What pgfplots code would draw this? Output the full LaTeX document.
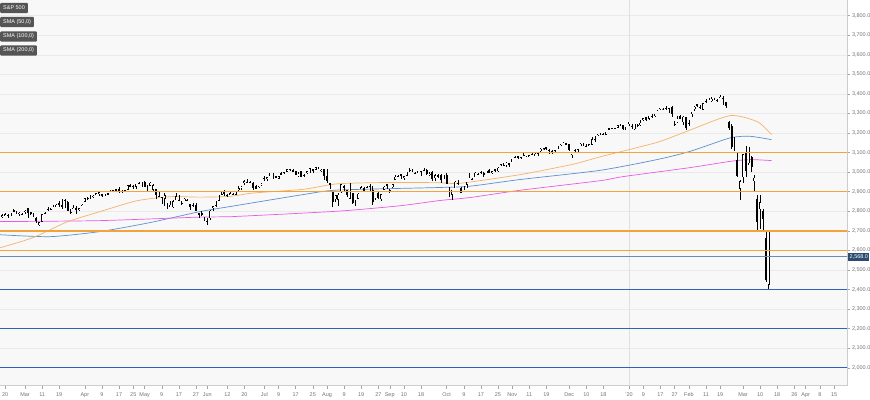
\documentclass[border=0pt]{standalone}
\usepackage{fontspec}
\setmainfont{Liberation Sans}
\usepackage{pgfplots}
\usepackage{pgfplotstable}
\pgfplotsset{compat=1.18}
\definecolor{bgc}{HTML}{F8F8F8}
\definecolor{gridc}{HTML}{EAEAEA}
\definecolor{lvlo}{HTML}{F2A33A}
\definecolor{lvlb}{HTML}{2E63B8}
\definecolor{smaA}{HTML}{F7B267}
\definecolor{smaB}{HTML}{5B8FD0}
\definecolor{smaC}{HTML}{E85BE8}
\definecolor{pricec}{HTML}{6B8BAE}
\definecolor{tagc}{HTML}{2C4B70}
\definecolor{legc}{HTML}{555555}
% S&P 500 daily OHLC, 14 Feb 2019 (index -10) to 13 Mar 2020 (index 261)
\pgfplotstableread{
o h l c
2743 2757 2736 2745.7
2760 2775.7 2760 2775.6
2769 2788 2767 2779.8
2779 2789 2775 2784.7
2782 2785 2764 2774.9
2780 2792.9 2775 2792.7
2804 2813 2794 2796.1
2792 2803 2790 2793.9
2787 2795 2775 2792.4
2788 2793 2782 2784.5
2798 2808 2787 2803.7
2814 2816 2767 2792.8
2795 2796 2781 2789.7
2790 2790 2768 2771.5
2766 2768 2739 2748.9
2731 2744 2722 2743.1
2747 2784 2747 2783.3
2787 2798 2786 2791.5
2799 2821 2799 2810.9
2810 2815 2804 2808.5
2811 2831 2811 2822.5
2822 2836 2820 2832.9
2840 2852 2823 2832.6
2831 2860 2813 2824.2
2820 2860 2817 2854.9
2847 2852 2800 2800.7
2796 2809 2785 2798.4
2813 2830 2812 2818.5
2819 2826 2788 2805.4
2809 2819 2799 2815.4
2828 2837 2827 2834.4
2848 2869 2848 2867.2
2868 2872 2859 2867.2
2876 2885 2865 2873.4
2873 2882 2866 2879.4
2884 2893 2882 2892.7
2888 2896 2880 2895.8
2886 2886 2874 2878.2
2881 2889 2879 2888.2
2892 2893 2881 2888.3
2900 2910 2898 2907.4
2908 2909 2896 2905.6
2912 2916 2900 2907.1
2916 2922 2895 2900.5
2904 2908 2891 2905.0
2898 2910 2896 2908.0
2910 2936 2909 2933.7
2935 2937 2926 2927.3
2929 2933 2913 2926.2
2926 2940 2916 2939.9
2941 2950 2939 2943.0
2937 2948 2924 2945.8
2952 2954 2923 2923.7
2922 2932 2900 2917.5
2930 2948 2930 2945.6
2909 2937 2898 2932.5
2913 2913 2862 2884.1
2880 2898 2873 2879.4
2860 2875 2837 2870.7
2864 2892 2826 2881.4
2841 2841 2810 2811.9
2820 2852 2820 2834.4
2820 2858 2816 2851.0
2855 2892 2855 2876.3
2858 2885 2854 2859.5
2841 2853 2831 2840.2
2855 2868 2855 2864.4
2856 2865 2851 2856.3
2836 2836 2806 2822.2
2833 2841 2821 2826.1
2831 2841 2801 2802.4
2791 2791 2766 2783.0
2786 2799 2777 2788.9
2767 2772 2750 2752.1
2752 2763 2729 2744.5
2763 2804 2756 2803.3
2818 2827 2801 2826.2
2829 2853 2823 2843.5
2853 2885 2853 2873.3
2885 2904 2885 2886.7
2903 2911 2878 2885.7
2882 2888 2874 2879.8
2886 2896 2884 2891.6
2886 2895 2881 2887.0
2889 2898 2886 2889.7
2906 2931 2905 2917.8
2920 2930 2911 2926.5
2949 2958 2934 2954.2
2952 2964 2947 2950.5
2951 2955 2944 2945.4
2945 2947 2911 2917.4
2927 2932 2912 2913.8
2919 2929 2918 2924.9
2932 2943 2929 2941.8
2971 2978 2953 2964.3
2965 2973 2955 2973.0
2978 2996 2978 2995.8
2984 2994 2967 2990.4
2979 2981 2970 2976.0
2966 2981 2963 2979.6
2989 3002 2984 2993.1
2999 3003 2989 2999.9
3003 3014 3001 3013.8
3017 3017 3009 3014.3
3012 3016 3003 3004.0
3006 3006 2984 2984.4
2979 2999 2975 2995.1
3005 3006 2976 2976.6
2981 2991 2976 2985.0
2995 3005 2988 3005.5
2999 3020 2997 3019.6
3016 3017 2996 3003.7
3013 3028 3013 3025.9
3024 3026 3015 3021.0
3007 3018 3000 3013.2
3016 3017 2959 2980.4
2980 3014 2945 2953.6
2943 2945 2915 2932.1
2898 2898 2822 2844.7
2861 2885 2848 2881.8
2859 2892 2825 2884.0
2897 2938 2892 2938.1
2930 2935 2901 2918.7
2907 2911 2874 2882.7
2865 2943 2865 2926.3
2894 2894 2839 2840.6
2846 2856 2825 2847.6
2864 2893 2864 2888.7
2913 2931 2913 2923.7
2919 2923 2899 2900.5
2923 2928 2917 2924.4
2931 2939 2904 2923.0
2911 2928 2834 2847.1
2867 2880 2856 2878.4
2893 2898 2860 2869.2
2862 2890 2853 2887.9
2910 2931 2910 2924.6
2937 2941 2914 2926.5
2909 2914 2891 2906.3
2924 2938 2921 2937.8
2960 2985 2960 2976.0
2980 2986 2973 2978.7
2988 2990 2966 2978.4
2971 2980 2958 2979.4
2982 3001 2978 3000.9
3010 3020 3000 3009.6
3013 3017 3003 3007.4
2997 3003 2991 2998.0
2996 3006 2994 3005.7
3002 3008 2979 3006.7
3010 3022 3004 3006.8
3009 3016 2985 2992.1
2984 2999 2982 2991.8
3002 3007 2957 2966.6
2968 2990 2953 2984.9
2985 2988 2969 2977.6
2986 2988 2946 2961.8
2968 2983 2967 2976.7
2983 2993 2938 2940.3
2924 2925 2874 2887.6
2885 2911 2856 2910.6
2918 2953 2918 2952.0
2945 2960 2935 2938.8
2921 2926 2892 2893.1
2911 2929 2907 2919.4
2918 2948 2917 2938.1
2963 2993 2963 2970.3
2965 2972 2962 2966.2
2973 3003 2973 2995.7
2990 2997 2986 2989.7
3000 3008 2992 2998.0
2996 3000 2976 2986.2
2997 3007 2995 3006.7
3011 3014 2996 2996.0
2995 3005 2992 3004.5
3015 3017 3001 3010.3
3004 3027 3001 3022.6
3033 3044 3033 3039.4
3036 3047 3034 3036.9
3039 3050 3026 3046.8
3047 3047 3024 3037.6
3051 3067 3051 3066.9
3079 3084 3075 3078.3
3080 3084 3069 3074.6
3075 3079 3065 3076.8
3087 3098 3080 3085.2
3082 3093 3075 3093.1
3080 3088 3076 3087.0
3090 3103 3085 3091.8
3084 3099 3083 3094.0
3091 3098 3083 3096.6
3107 3121 3105 3120.5
3117 3124 3113 3122.0
3127 3127 3113 3120.2
3114 3119 3091 3108.5
3108 3111 3094 3103.5
3111 3112 3099 3110.3
3117 3134 3117 3133.6
3134 3142 3131 3140.5
3145 3154 3143 3153.6
3147 3150 3140 3141.0
3143 3144 3110 3113.9
3087 3095 3070 3093.2
3103 3120 3103 3112.8
3119 3120 3103 3117.4
3135 3150 3135 3145.9
3141 3149 3135 3136.0
3135 3143 3126 3132.5
3136 3143 3133 3141.6
3141 3177 3138 3168.6
3166 3183 3156 3168.8
3183 3197 3183 3191.5
3195 3199 3188 3192.5
3195 3199 3190 3191.1
3192 3206 3191 3205.4
3223 3226 3216 3221.2
3226 3228 3221 3224.0
3225 3226 3220 3223.4
3227 3240 3227 3239.9
3247 3248 3235 3240.0
3240 3240 3217 3221.3
3215 3231 3213 3230.8
3245 3258 3236 3257.9
3227 3247 3222 3234.9
3218 3247 3215 3246.3
3242 3245 3233 3237.2
3239 3268 3236 3253.1
3267 3276 3263 3274.7
3281 3282 3260 3265.4
3272 3288 3268 3288.1
3286 3295 3278 3283.2
3283 3298 3280 3289.3
3303 3317 3302 3316.8
3323 3330 3318 3329.6
3321 3329 3316 3320.8
3330 3337 3320 3321.8
3316 3326 3302 3325.5
3334 3338 3283 3295.5
3248 3259 3234 3243.6
3256 3286 3253 3276.2
3289 3293 3271 3273.4
3256 3286 3242 3283.7
3282 3283 3214 3225.5
3236 3268 3236 3248.9
3280 3306 3280 3297.6
3324 3337 3313 3334.7
3345 3348 3333 3345.8
3335 3342 3322 3327.7
3318 3352 3317 3352.1
3366 3375 3352 3357.8
3370 3381 3369 3379.5
3365 3385 3360 3373.9
3379 3381 3367 3380.2
3370 3375 3356 3370.3
3381 3393 3378 3386.2
3380 3389 3341 3373.2
3360 3360 3328 3337.8
3257 3260 3214 3225.9
3238 3247 3118 3128.2
3140 3182 3108 3116.4
3063 3097 2977 2978.8
2916 2960 2855 2954.2
2974 3091 2946 3090.2
3096 3136 2976 3003.4
3046 3130 3034 3130.1
3075 3083 2999 3023.9
2954 2985 2901 2972.4
2863 2885 2706 2746.6
2810 2885 2710 2845
2800 2812 2706 2760
2665 2706 2440 2450
2425 2700 2400 2696
}\spx
\begin{document}
\begin{tikzpicture}
\begin{axis}[
  at={(0bp,14.5bp)}, anchor=south west,
  scale only axis, width=847bp, height=385.5bp,
  xmin=-8.775, xmax=288.5, ymin=1909, ymax=3880,
  axis on top=false,
  axis x line*=bottom, axis y line*=right,
  axis line style={draw=black!20, line width=0.6bp},
  axis background/.style={fill=bgc},
  tick align=outside, major tick length=3bp,
  tick style={draw=black!35, line width=0.4bp},
  ytick={2000,2100,...,3800},
  ymajorgrids, major grid style={draw=gridc, line width=0.5bp},
  yticklabel={\pgfmathprintnumber[fixed,fixed zerofill,precision=1,1000 sep={,}]{\tick}},
  /pgf/number format/assume math mode=true,
  ticklabel style={font=\fontsize{5.5}{6}\selectfont, text=black!55},
  y tick label style={xshift=-1.5bp},
  x tick label style={text height=4pt, text depth=1pt, yshift=-0.5bp},
  xtick={-7,0,6,12,21,27,33,38,42,48,54,60,64,71,77,84,89,95,101,106,112,118,124,128,133,139,148,154,160,166,171,177,183,191,197,203,212,217,223,228,233,239,244,252,258,264,270,274,279,284},
  xticklabels={20,Mar,11,19,Apr,9,17,25,May,9,17,27,Jun,12,20,Jul,9,17,25,Aug,9,19,27,Sep,10,18,Oct,9,17,25,Nov,11,19,Dec,10,18,'20,9,17,27,Feb,11,19,Mar,10,18,26,Apr,8,15},
  extra x ticks={212}, extra x tick labels={},
  extra x tick style={xmajorgrids=true, major grid style={draw=black!12, line width=0.5bp}, major tick length=0pt},
]
% moving averages
\addplot[draw=smaB, line width=0.7bp, smooth, tension=0.4, mark=none] coordinates {
(-9,2680) (8.8,2670) (26.3,2696) (43.9,2742) (61.4,2798) (72,2824) (97.6,2885) (109.5,2908) (144.6,2921) (156.2,2928) (173.7,2962) (201.8,3009) (221.8,3064) (233.4,3106) (247.5,3175) (254.5,3183) (262,3166)};
\addplot[draw=smaC, line width=0.7bp, smooth, tension=0.4, mark=none] coordinates {
(-9,2747) (26.3,2752) (61.4,2770) (72,2772) (109.5,2800) (131.6,2828) (145.7,2855) (156.2,2870) (173.7,2907) (201.8,2956) (209.9,2977) (233.4,3023) (247.5,3055) (254.5,3064) (262,3059)};
\addplot[draw=smaA, line width=0.7bp, smooth, tension=0.4, mark=none] coordinates {
(-9,2612) (2.8,2665) (14.7,2745) (26.3,2798) (37.9,2849) (43.9,2864) (51.9,2875) (61.4,2872) (72,2876) (80,2893) (97.6,2912) (109.5,2940) (127,2947) (144.6,2946) (152.7,2943) (173.7,2987) (192.3,3040) (201.8,3078) (221.8,3152) (233.4,3215) (247.5,3289) (257,3258) (262,3192)};
% wicks
\addplot[draw=none, mark=none,
  error bars/.cd, y dir=both, y explicit, error mark=none,
  error bar style={draw=black, line width=0.5bp, solid}]
  table[x expr=\coordindex-10, y expr={(\thisrow{h}+\thisrow{l})/2}, y error expr={(\thisrow{h}-\thisrow{l})/2}] {\spx};
% down bodies
\addplot[draw=none, mark=none, restrict x to domain=-20:300,
  error bars/.cd, y dir=both, y explicit, error mark=none,
  error bar style={draw=black, line width=1.9bp, solid}]
  table[x expr={\thisrow{c}<\thisrow{o} ? \coordindex-10 : -1000}, y expr={(\thisrow{o}+\thisrow{c})/2}, y error expr={abs(\thisrow{c}-\thisrow{o})/2}] {\spx};
% up bodies: outline
\addplot[draw=none, mark=none, restrict x to domain=-20:300,
  error bars/.cd, y dir=both, y explicit, error mark=none,
  error bar style={draw=black, line width=1.9bp, solid}]
  table[x expr={\thisrow{c}<\thisrow{o} ? -1000 : \coordindex-10}, y expr={(\thisrow{o}+\thisrow{c})/2}, y error expr={abs(\thisrow{c}-\thisrow{o})/2}] {\spx};
% up bodies: white interior
\addplot[draw=none, mark=none, restrict x to domain=-20:300,
  error bars/.cd, y dir=both, y explicit, error mark=none,
  error bar style={draw=white, line width=0.9bp, solid}]
  table[x expr={\thisrow{c}<\thisrow{o} ? -1000 : \coordindex-10}, y expr={(\thisrow{o}+\thisrow{c})/2}, y error expr={max(abs(\thisrow{c}-\thisrow{o})/2-2.4,0)}] {\spx};
% levels (drawn over the candles)
\addplot[draw=lvlo, solid, line width=1.5bp, mark=none] coordinates {(-20,3100) (300,3100)};
\addplot[draw=lvlo, solid, line width=1.5bp, mark=none] coordinates {(-20,2900) (300,2900)};
\addplot[draw=lvlo, solid, line width=1.5bp, mark=none] coordinates {(-20,2700) (300,2700)};
\addplot[draw=lvlo, solid, line width=1.5bp, mark=none] coordinates {(-20,2600) (300,2600)};
\addplot[draw=pricec, solid, line width=0.9bp, mark=none] coordinates {(-20,2568) (300,2568)};
\addplot[draw=lvlb, solid, line width=1.5bp, mark=none] coordinates {(-20,2400) (300,2400)};
\addplot[draw=lvlb, solid, line width=1.5bp, mark=none] coordinates {(-20,2200) (300,2200)};
\addplot[draw=lvlb, solid, line width=1.5bp, mark=none] coordinates {(-20,2000) (300,2000)};
\end{axis}
\tikzset{legbox/.style={fill=legc, text=white, rounded corners=1bp, font=\fontsize{5.5}{6}\selectfont, inner xsep=3bp, inner ysep=2.7bp, text height=4pt, text depth=1pt, anchor=west}}
\node[legbox] at (0bp,392bp) {S\&P 500};
\node[legbox] at (0bp,378bp) {SMA (50,0)};
\node[legbox] at (0bp,363.5bp) {SMA (100,0)};
\node[legbox] at (0bp,349.5bp) {SMA (200,0)};
\node[fill=tagc, text=white, font=\fontsize{5.5}{6}\selectfont, inner xsep=1.5bp, inner ysep=1.6bp, text height=4pt, text depth=1pt, anchor=west] at (848bp,143.4bp) {2,568.0};
\pgfresetboundingbox
\path[use as bounding box] (0,0) rectangle (870bp,400bp);
\end{tikzpicture}
\end{document}
